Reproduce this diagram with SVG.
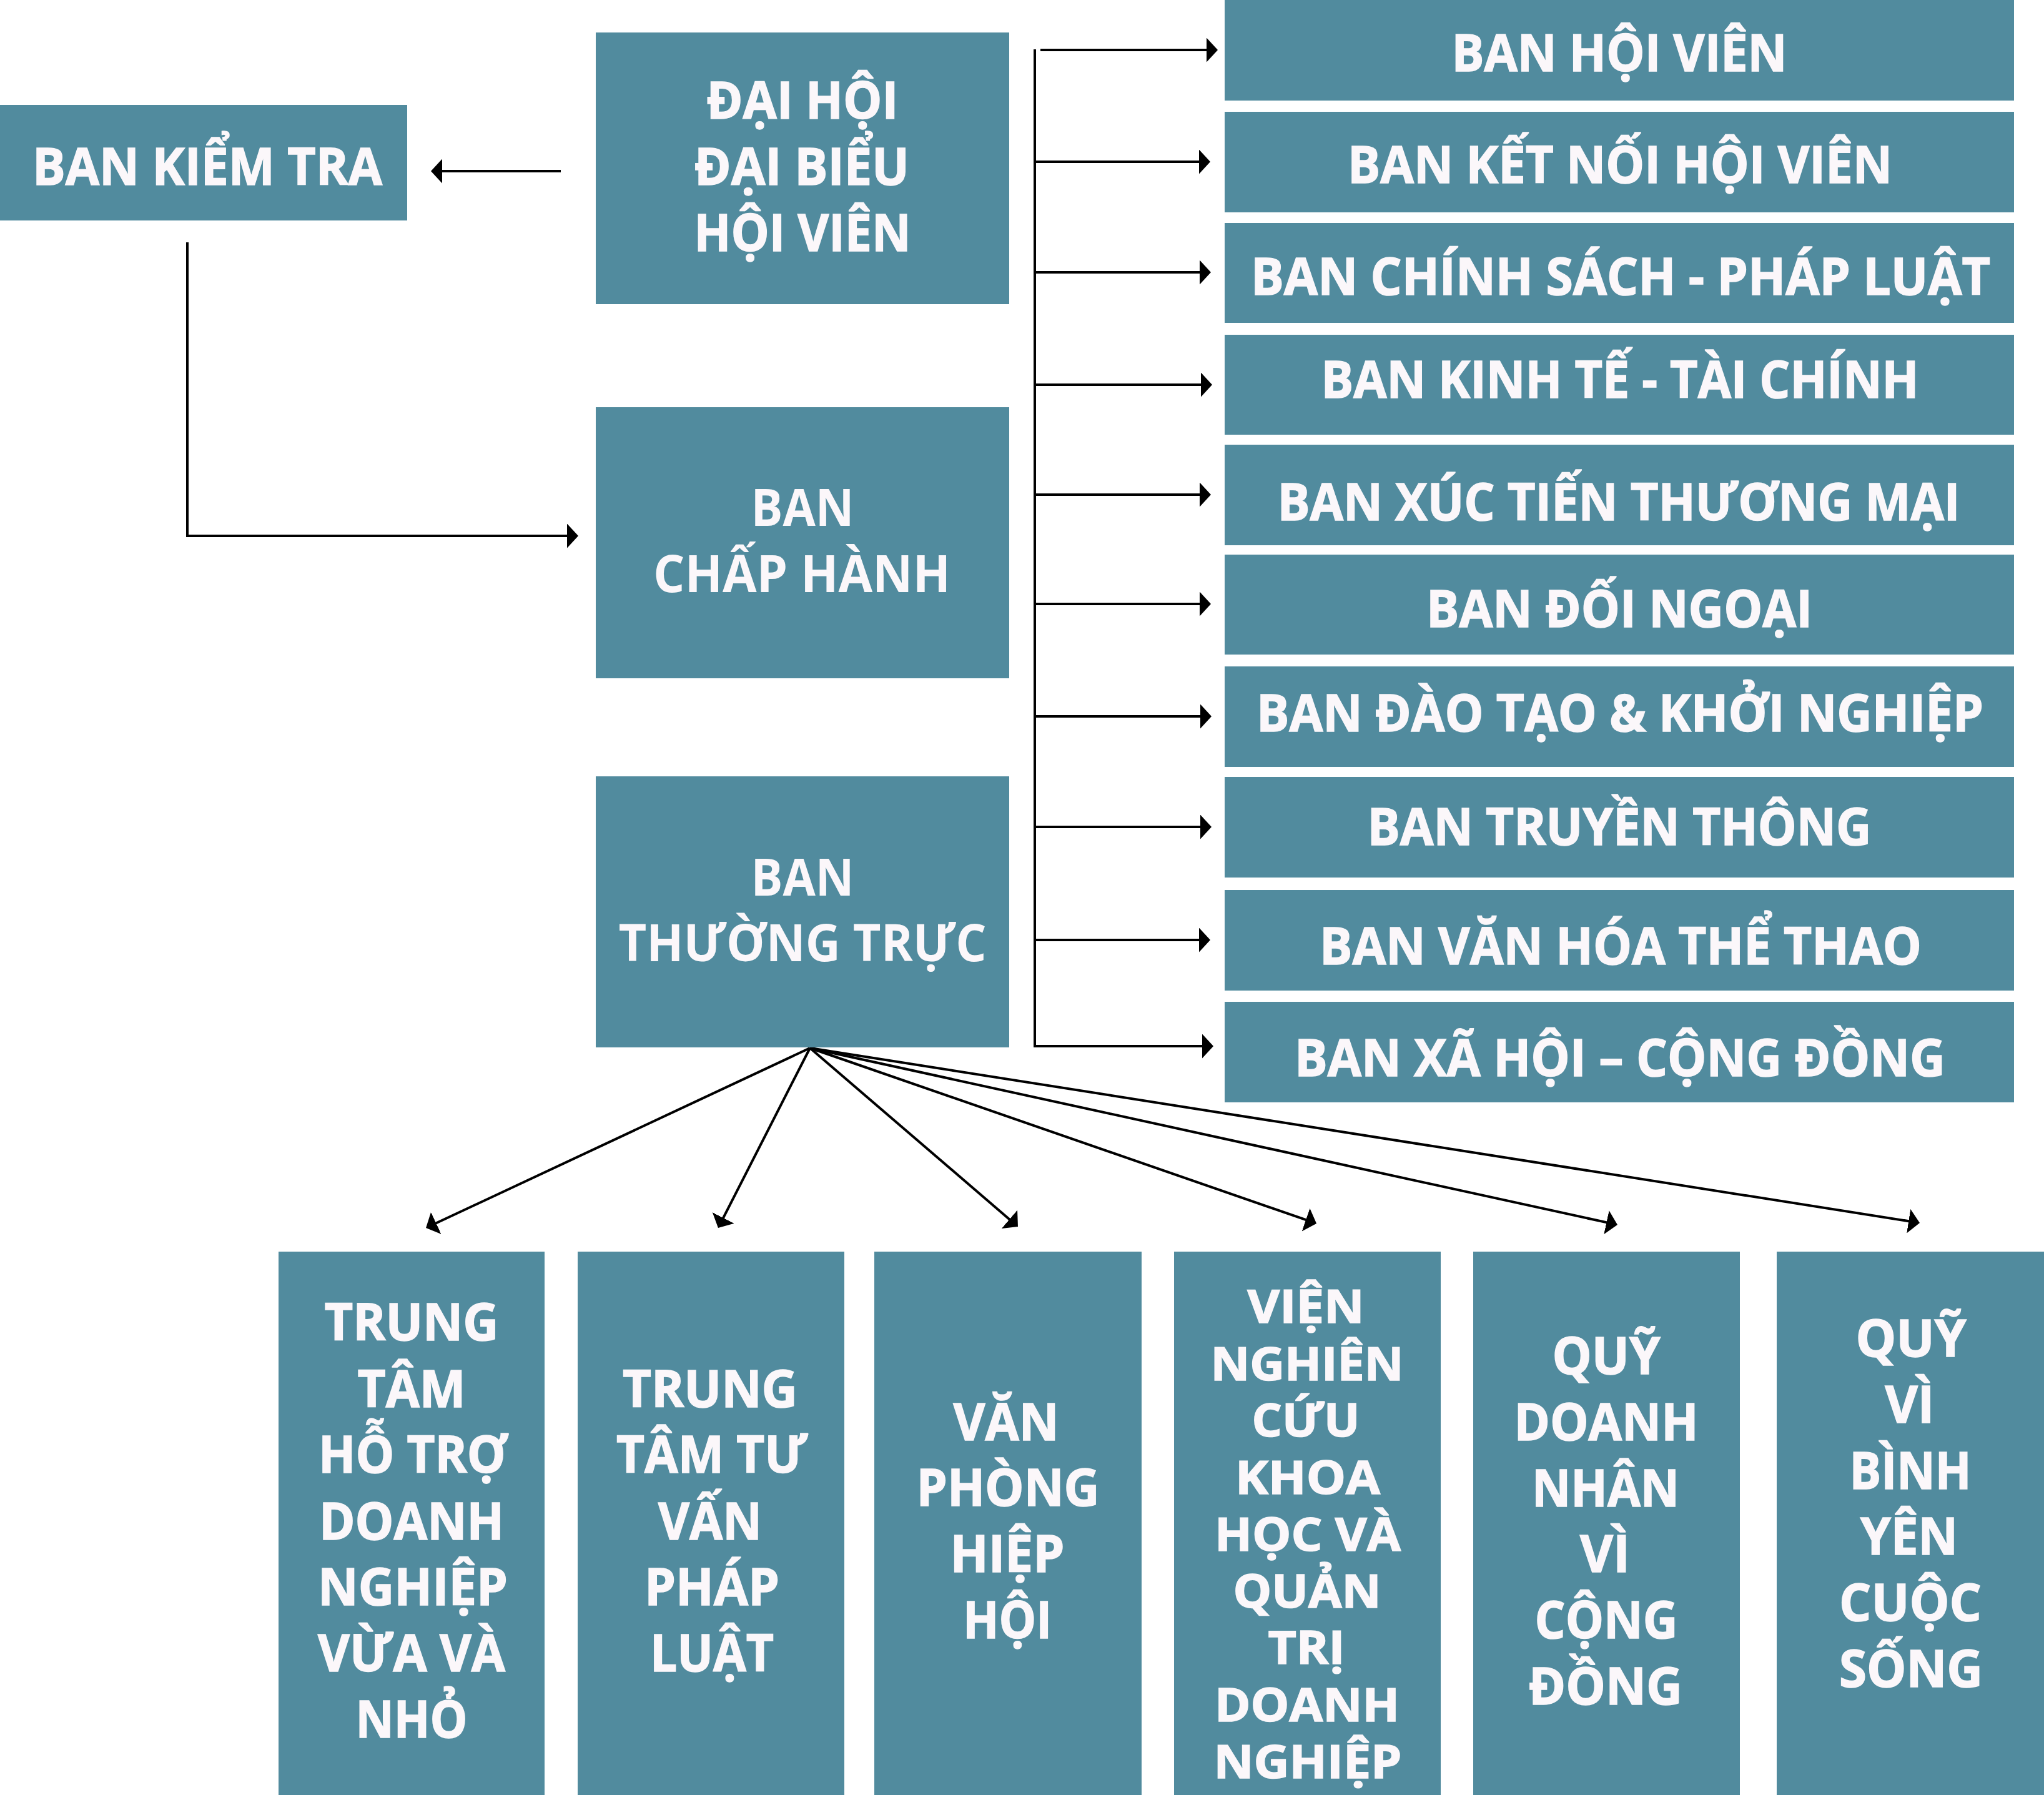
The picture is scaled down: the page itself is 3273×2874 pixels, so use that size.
<svg xmlns="http://www.w3.org/2000/svg" width="3273" height="2874" viewBox="0 0 3273 2874">
<style>
.box{fill:#518b9e}
.t{font-family:"Open Sans","Liberation Sans",sans-serif;font-weight:700;font-size:83px;fill:#fbf7fa;text-anchor:middle;stroke:#fbf7fa;stroke-width:1.6}
.w{stroke:none}
.s{font-size:73px}
.c{fill:none;stroke:#000;stroke-width:4}
</style>
<defs>
<marker id="ah" markerUnits="userSpaceOnUse" viewBox="0 0 18 39" refX="8" refY="19.5" markerWidth="18" markerHeight="39" orient="auto">
<path d="M0,0 L18,19.5 L0,39 Z" fill="#000"/>
</marker>
</defs>
<rect width="3273" height="2874" fill="#fff"/>

<g id="connectors">
<line class="c" x1="898" y1="274" x2="700" y2="274" marker-end="url(#ah)"/>
<path class="c" d="M300,388 V858 H916" marker-end="url(#ah)"/>
<line class="c" x1="1657" y1="79" x2="1657" y2="1676"/>
<line class="c" x1="1666" y1="80" x2="1940" y2="80" marker-end="url(#ah)"/>
<line class="c" x1="1655" y1="259" x2="1928" y2="259" marker-end="url(#ah)"/>
<line class="c" x1="1655" y1="436" x2="1929" y2="436" marker-end="url(#ah)"/>
<line class="c" x1="1655" y1="616" x2="1931" y2="616" marker-end="url(#ah)"/>
<line class="c" x1="1655" y1="792" x2="1929" y2="792" marker-end="url(#ah)"/>
<line class="c" x1="1655" y1="967" x2="1929" y2="967" marker-end="url(#ah)"/>
<line class="c" x1="1655" y1="1147" x2="1930" y2="1147" marker-end="url(#ah)"/>
<line class="c" x1="1655" y1="1324" x2="1930" y2="1324" marker-end="url(#ah)"/>
<line class="c" x1="1655" y1="1505" x2="1928" y2="1505" marker-end="url(#ah)"/>
<line class="c" x1="1655" y1="1675" x2="1933" y2="1675" marker-end="url(#ah)"/>
<line class="c" x1="1297" y1="1678" x2="691.1" y2="1961.8" marker-end="url(#ah)"/>
<line class="c" x1="1297" y1="1678" x2="1154.5" y2="1957.1" marker-end="url(#ah)"/>
<line class="c" x1="1297" y1="1678" x2="1622.4" y2="1957.5" marker-end="url(#ah)"/>
<line class="c" x1="1297" y1="1678" x2="2098.6" y2="1955.7" marker-end="url(#ah)"/>
<line class="c" x1="1297" y1="1678" x2="2580.2" y2="1958.9" marker-end="url(#ah)"/>
<line class="c" x1="1297" y1="1678" x2="3064.1" y2="1956.4" marker-end="url(#ah)"/>
</g>

<g id="ban-kiem-tra">
<rect class="box" x="0" y="168" width="652" height="185"/>
<text class="t" x="332" y="296" textLength="560" lengthAdjust="spacingAndGlyphs">BAN KIỂM TRA</text>
</g>

<g id="dai-hoi">
<rect class="box" x="954" y="52" width="662" height="435"/>
<text class="t" x="1285" y="190" textLength="307" lengthAdjust="spacingAndGlyphs">ĐẠI HỘI</text>
<text class="t" x="1284" y="296" textLength="344" lengthAdjust="spacingAndGlyphs">ĐẠI BIỂU</text>
<text class="t" x="1285" y="402" textLength="347" lengthAdjust="spacingAndGlyphs">HỘI VIÊN</text>
</g>

<g id="ban-chap-hanh">
<rect class="box" x="954" y="652" width="662" height="434"/>
<text class="t w" x="1285" y="842" textLength="165" lengthAdjust="spacingAndGlyphs">BAN</text>
<text class="t w" x="1284" y="948" textLength="476" lengthAdjust="spacingAndGlyphs">CHẤP HÀNH</text>
</g>

<g id="ban-thuong-truc">
<rect class="box" x="954" y="1243" width="662" height="434"/>
<text class="t w" x="1285" y="1434" textLength="165" lengthAdjust="spacingAndGlyphs">BAN</text>
<text class="t w" x="1285" y="1539" textLength="589" lengthAdjust="spacingAndGlyphs">THƯỜNG TRỰC</text>
</g>

<g id="ban-hoi-vien">
<rect class="box" x="1961" y="0" width="1264" height="161"/>
<text class="t" x="2593" y="114" textLength="537" lengthAdjust="spacingAndGlyphs">BAN HỘI VIÊN</text>
</g>
<g id="ban-ket-noi">
<rect class="box" x="1961" y="179" width="1264" height="161"/>
<text class="t" x="2594" y="293" textLength="872" lengthAdjust="spacingAndGlyphs">BAN KẾT NỐI HỘI VIÊN</text>
</g>
<g id="ban-chinh-sach">
<rect class="box" x="1961" y="357" width="1264" height="160"/>
<text class="t" x="2595" y="472" textLength="1184" lengthAdjust="spacingAndGlyphs">BAN CHÍNH SÁCH - PHÁP LUẬT</text>
</g>
<g id="ban-kinh-te">
<rect class="box" x="1961" y="536" width="1264" height="160"/>
<text class="t" x="2594" y="637" textLength="957" lengthAdjust="spacingAndGlyphs">BAN KINH TẾ - TÀI CHÍNH</text>
</g>
<g id="ban-xuc-tien">
<rect class="box" x="1961" y="712" width="1264" height="161"/>
<text class="t" x="2592" y="833" textLength="1093" lengthAdjust="spacingAndGlyphs">BAN XÚC TIẾN THƯƠNG MẠI</text>
</g>
<g id="ban-doi-ngoai">
<rect class="box" x="1961" y="888" width="1264" height="160"/>
<text class="t" x="2593" y="1004" textLength="618" lengthAdjust="spacingAndGlyphs">BAN ĐỐI NGOẠI</text>
</g>
<g id="ban-dao-tao">
<rect class="box" x="1961" y="1067" width="1264" height="161"/>
<text class="t" x="2594" y="1171" textLength="1164" lengthAdjust="spacingAndGlyphs">BAN ĐÀO TẠO &amp; KHỞI NGHIỆP</text>
</g>
<g id="ban-truyen-thong">
<rect class="box" x="1961" y="1244" width="1264" height="161"/>
<text class="t" x="2593" y="1353" textLength="807" lengthAdjust="spacingAndGlyphs">BAN TRUYỀN THÔNG</text>
</g>
<g id="ban-van-hoa">
<rect class="box" x="1961" y="1425" width="1264" height="161"/>
<text class="t" x="2595" y="1544" textLength="964" lengthAdjust="spacingAndGlyphs">BAN VĂN HÓA THỂ THAO</text>
</g>
<g id="ban-xa-hoi">
<rect class="box" x="1961" y="1604" width="1264" height="161"/>
<text class="t" x="2594" y="1723" textLength="1042" lengthAdjust="spacingAndGlyphs">BAN XÃ HỘI – CỘNG ĐỒNG</text>
</g>

<g id="trung-tam-ho-tro">
<rect class="box" x="446" y="2004" width="426" height="870"/>
<text class="t" x="659" y="2146" textLength="279" lengthAdjust="spacingAndGlyphs">TRUNG</text>
<text class="t" x="659" y="2253" textLength="173" lengthAdjust="spacingAndGlyphs">TÂM</text>
<text class="t" x="661" y="2358" textLength="302" lengthAdjust="spacingAndGlyphs">HỖ TRỢ</text>
<text class="t" x="659" y="2465" textLength="296" lengthAdjust="spacingAndGlyphs">DOANH</text>
<text class="t" x="661" y="2570" textLength="304" lengthAdjust="spacingAndGlyphs">NGHIỆP</text>
<text class="t" x="659" y="2676" textLength="300" lengthAdjust="spacingAndGlyphs">VỪA VÀ</text>
<text class="t" x="659" y="2782" textLength="179" lengthAdjust="spacingAndGlyphs">NHỎ</text>
</g>

<g id="trung-tam-tu-van">
<rect class="box" x="925" y="2004" width="427" height="870"/>
<text class="t" x="1137" y="2253" textLength="280" lengthAdjust="spacingAndGlyphs">TRUNG</text>
<text class="t" x="1140" y="2358" textLength="306" lengthAdjust="spacingAndGlyphs">TÂM TƯ</text>
<text class="t" x="1137" y="2465" textLength="166" lengthAdjust="spacingAndGlyphs">VẤN</text>
<text class="t" x="1140" y="2570" textLength="216" lengthAdjust="spacingAndGlyphs">PHÁP</text>
<text class="t" x="1140" y="2676" textLength="198" lengthAdjust="spacingAndGlyphs">LUẬT</text>
</g>

<g id="van-phong">
<rect class="box" x="1400" y="2004" width="428" height="870"/>
<text class="t" x="1611" y="2306" textLength="169" lengthAdjust="spacingAndGlyphs">VĂN</text>
<text class="t" x="1614" y="2411" textLength="293" lengthAdjust="spacingAndGlyphs">PHÒNG</text>
<text class="t" x="1613" y="2517" textLength="183" lengthAdjust="spacingAndGlyphs">HIỆP</text>
<text class="t" x="1613" y="2623" textLength="142" lengthAdjust="spacingAndGlyphs">HỘI</text>
</g>

<g id="vien-nghien-cuu">
<rect class="box" x="1880" y="2004" width="427" height="870"/>
<text class="t s" x="2091" y="2118" textLength="187" lengthAdjust="spacingAndGlyphs">VIỆN</text>
<text class="t s" x="2093" y="2210" textLength="309" lengthAdjust="spacingAndGlyphs">NGHIÊN</text>
<text class="t s" x="2091" y="2300" textLength="173" lengthAdjust="spacingAndGlyphs">CỨU</text>
<text class="t s" x="2094" y="2392" textLength="232" lengthAdjust="spacingAndGlyphs">KHOA</text>
<text class="t s" x="2094" y="2483" textLength="298" lengthAdjust="spacingAndGlyphs">HỌC VÀ</text>
<text class="t s" x="2093" y="2574" textLength="237" lengthAdjust="spacingAndGlyphs">QUẢN</text>
<text class="t s" x="2092" y="2664" textLength="123" lengthAdjust="spacingAndGlyphs">TRỊ</text>
<text class="t s" x="2093" y="2756" textLength="296" lengthAdjust="spacingAndGlyphs">DOANH</text>
<text class="t s" x="2094" y="2847" textLength="301" lengthAdjust="spacingAndGlyphs">NGHIỆP</text>
</g>

<g id="quy-doanh-nhan">
<rect class="box" x="2359" y="2004" width="427" height="870"/>
<text class="t" x="2572" y="2200" textLength="173" lengthAdjust="spacingAndGlyphs">QUỸ</text>
<text class="t" x="2572" y="2306" textLength="295" lengthAdjust="spacingAndGlyphs">DOANH</text>
<text class="t" x="2571" y="2412" textLength="236" lengthAdjust="spacingAndGlyphs">NHÂN</text>
<text class="t" x="2570" y="2517" textLength="80" lengthAdjust="spacingAndGlyphs">VÌ</text>
<text class="t" x="2572" y="2623" textLength="229" lengthAdjust="spacingAndGlyphs">CỘNG</text>
<text class="t" x="2571" y="2729" textLength="246" lengthAdjust="spacingAndGlyphs">ĐỒNG</text>
</g>

<g id="quy-vi-binh-yen">
<rect class="box" x="2845" y="2004" width="428" height="870"/>
<text class="t" x="3060" y="2172" textLength="177" lengthAdjust="spacingAndGlyphs">QUỸ</text>
<text class="t" x="3058" y="2278" textLength="79" lengthAdjust="spacingAndGlyphs">VÌ</text>
<text class="t" x="3059" y="2384" textLength="195" lengthAdjust="spacingAndGlyphs">BÌNH</text>
<text class="t" x="3057" y="2489" textLength="156" lengthAdjust="spacingAndGlyphs">YÊN</text>
<text class="t" x="3059" y="2595" textLength="228" lengthAdjust="spacingAndGlyphs">CUỘC</text>
<text class="t" x="3060" y="2701" textLength="230" lengthAdjust="spacingAndGlyphs">SỐNG</text>
</g>
</svg>
